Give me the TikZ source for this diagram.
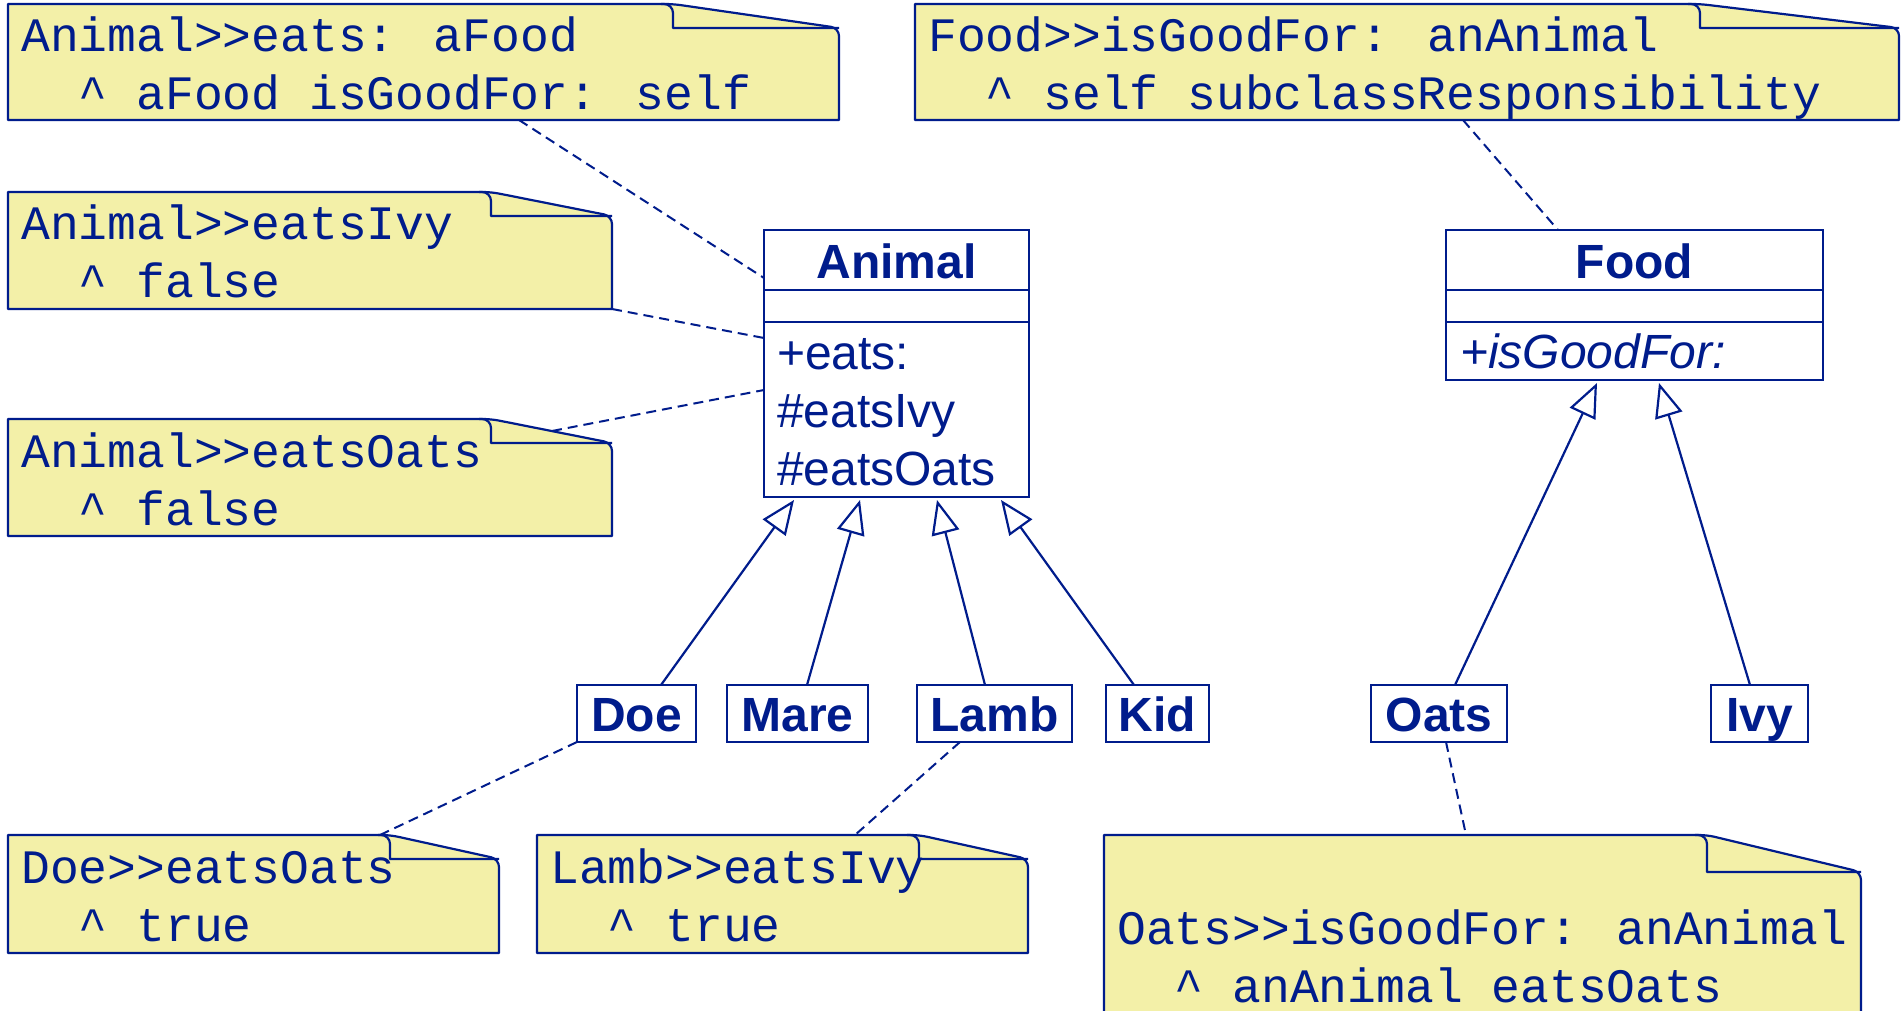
\documentclass[tikz,border=0pt]{standalone}
\usepackage{fontspec}
\setmainfont{Liberation Sans}
\newfontfamily\monof{Liberation Mono}
\usetikzlibrary{arrows.meta,calc}
\definecolor{umlblue}{RGB}{0,28,140}
\definecolor{notey}{RGB}{243,240,168}
\tikzset{
 clsbox/.style={draw=umlblue, line width=2.4pt, fill=white, inner sep=0pt, outer sep=0pt, anchor=north west},
 subbox/.style={clsbox, font=\fontsize{48pt}{58pt}\selectfont\bfseries, text=umlblue, text height=35pt, text depth=0pt},
 clsname/.style={font=\fontsize{48pt}{58pt}\selectfont\bfseries, text=umlblue, inner sep=0pt, anchor=base},
 opstext/.style={font=\fontsize{48pt}{58pt}\selectfont, text=umlblue, inner sep=0pt, anchor=base west},
 sepline/.style={draw=umlblue, line width=2.4pt},
 notetext/.style={font=\fontsize{48pt}{58pt}\selectfont\monof, text=umlblue, inner sep=0pt, anchor=base west},
 gen/.style={draw=umlblue, line width=2.2pt, -{Triangle[open, length=34pt, width=28pt]}},
 anchorline/.style={draw=umlblue, line width=2pt, dash pattern=on 10pt off 6pt},
}
% name, x, y, w, h, fold width, fold depth
\newcommand\umlnote[7]{%
 \node[inner sep=0pt, outer sep=0pt, minimum width=#4pt, minimum height=#5pt, anchor=north west] (#1) at (#2,#3) {};
 \path[fill=notey, draw=umlblue, line width=2.2pt, line join=round]
   (#1.north west) [rounded corners=8pt] -- ([xshift=-#6pt]#1.north east)
   -- ([yshift=-#7pt]#1.north east) [sharp corners] -- (#1.south east)
   -- (#1.south west) -- cycle;
 \draw[umlblue, line width=2.2pt, line join=round]
   ([xshift=-#6pt-12pt]#1.north east) [rounded corners=9pt] -- ([xshift=-#6pt]#1.north east)
   [sharp corners] -- ([xshift=-#6pt, yshift=-#7pt]#1.north east) -- ([yshift=-#7pt]#1.north east);
}
\begin{document}
\begin{tikzpicture}[x=1pt, y=-1pt]
\useasboundingbox (0,0) rectangle (1901,1011);
\clip (0,0) rectangle (1901,1011);
\fill[white] (0,0) rectangle (1901,1011);

% notes
\umlnote{n1}{8}{4}{831}{116}{166}{24}
\node[notetext] (n1a) at (21,52) {Animal>{}>eats: aFood};
\node[notetext] (n1b) at (21,110) {\hphantom{xx}\textasciicircum{} aFood isGoodFor: self};

\umlnote{n2}{8}{192}{604}{117}{121}{24}
\node[notetext] (n2a) at (21,240) {Animal>{}>eatsIvy};
\node[notetext] (n2b) at (21,298) {\hphantom{xx}\textasciicircum{} false};

\umlnote{n3}{8}{419}{604}{117}{121}{24}
\node[notetext] (n3a) at (21,467) {Animal>{}>eatsOats};
\node[notetext] (n3b) at (21,525) {\hphantom{xx}\textasciicircum{} false};

\umlnote{n4}{915}{4}{984}{116}{199}{24}
\node[notetext] (n4a) at (928,52) {Food>{}>isGoodFor: anAnimal};
\node[notetext] (n4b) at (928,110) {\hphantom{xx}\textasciicircum{} self subclassResponsibility};

\umlnote{n5}{8}{835}{491}{118}{109}{24}
\node[notetext] (n5a) at (21,883) {Doe>{}>eatsOats};
\node[notetext] (n5b) at (21,941) {\hphantom{xx}\textasciicircum{} true};

\umlnote{n6}{537}{835}{491}{118}{109}{24}
\node[notetext] (n6a) at (550,883) {Lamb>{}>eatsIvy};
\node[notetext] (n6b) at (550,941) {\hphantom{xx}\textasciicircum{} true};

\umlnote{n7}{1104}{835}{757}{250}{154}{37}
\node[notetext] (n7a) at (1117,944) {Oats>{}>isGoodFor: anAnimal};
\node[notetext] (n7b) at (1117,1002) {\hphantom{xx}\textasciicircum{} anAnimal eatsOats};

% classes
\node[clsbox, minimum width=265pt, minimum height=267pt] (animal) at (764,230) {};
\node[clsname] (animalname) at ($(animal.north)+(0,48)$) {Animal};
\draw[sepline] ($(animal.north west)+(0,60)$) -- ($(animal.north east)+(0,60)$);
\draw[sepline] ($(animal.north west)+(0,92)$) -- ($(animal.north east)+(0,92)$);
\node[opstext] (op1) at ($(animal.north west)+(13,139)$) {+eats:};
\node[opstext] (op2) at ($(animal.north west)+(13,197)$) {\#eatsIvy};
\node[opstext] (op3) at ($(animal.north west)+(13,255)$) {\#eatsOats};

\node[clsbox, minimum width=377pt, minimum height=150pt] (food) at (1446,230) {};
\node[clsname] (foodname) at ($(food.north)+(0,48)$) {Food};
\draw[sepline] ($(food.north west)+(0,60)$) -- ($(food.north east)+(0,60)$);
\draw[sepline] ($(food.north west)+(0,92)$) -- ($(food.north east)+(0,92)$);
\node[opstext, font=\fontsize{48pt}{58pt}\selectfont\itshape] (op4) at ($(food.north west)+(14,138)$) {+isGoodFor:};

\node[subbox, minimum width=119pt, minimum height=57pt] (doe) at (577,685) {Doe};
\node[subbox, minimum width=141pt, minimum height=57pt] (mare) at (727,685) {Mare};
\node[subbox, minimum width=155pt, minimum height=57pt] (lamb) at (917,685) {Lamb};
\node[subbox, minimum width=103pt, minimum height=57pt] (kid) at (1106,685) {Kid};
\node[subbox, minimum width=136pt, minimum height=57pt] (oats) at (1371,685) {Oats};
\node[subbox, minimum width=97pt, minimum height=57pt] (ivy) at (1711,685) {Ivy};

% generalizations
\draw[gen] ($(doe.north west)+(84,0)$) -- ($(animal.south west)+(30,3)$);
\draw[gen] ($(mare.north west)+(80,0)$) -- ($(animal.south west)+(96,3)$);
\draw[gen] ($(lamb.north west)+(68,0)$) -- ($(animal.south west)+(173,3)$);
\draw[gen] ($(kid.north west)+(28,0)$) -- ($(animal.south west)+(237,3)$);
\draw[gen] ($(oats.north west)+(84,0)$) -- ($(food.south west)+(151,3)$);
\draw[gen] ($(ivy.north west)+(39,0)$) -- ($(food.south west)+(213,3)$);

% note anchors
\draw[anchorline] ($(n1.south west)+(511,0)$) -- ($(animal.north west)+(0,48)$);
\draw[anchorline] (n2.south east) -- ($(animal.north west)+(0,108)$);
\draw[anchorline] ($(n3.north east)+(-60,12)$) -- ($(animal.north west)+(0,160)$);
\draw[anchorline] ($(n4.south west)+(548,0)$) -- ($(food.north west)+(112,0)$);
\draw[anchorline] (doe.south west) -- ($(n5.north west)+(372,0)$);
\draw[anchorline] ($(lamb.south west)+(43,0)$) -- ($(n6.north west)+(318,0)$);
\draw[anchorline] ($(oats.south west)+(75,0)$) -- ($(n7.north west)+(362,0)$);
\end{tikzpicture}
\end{document}
